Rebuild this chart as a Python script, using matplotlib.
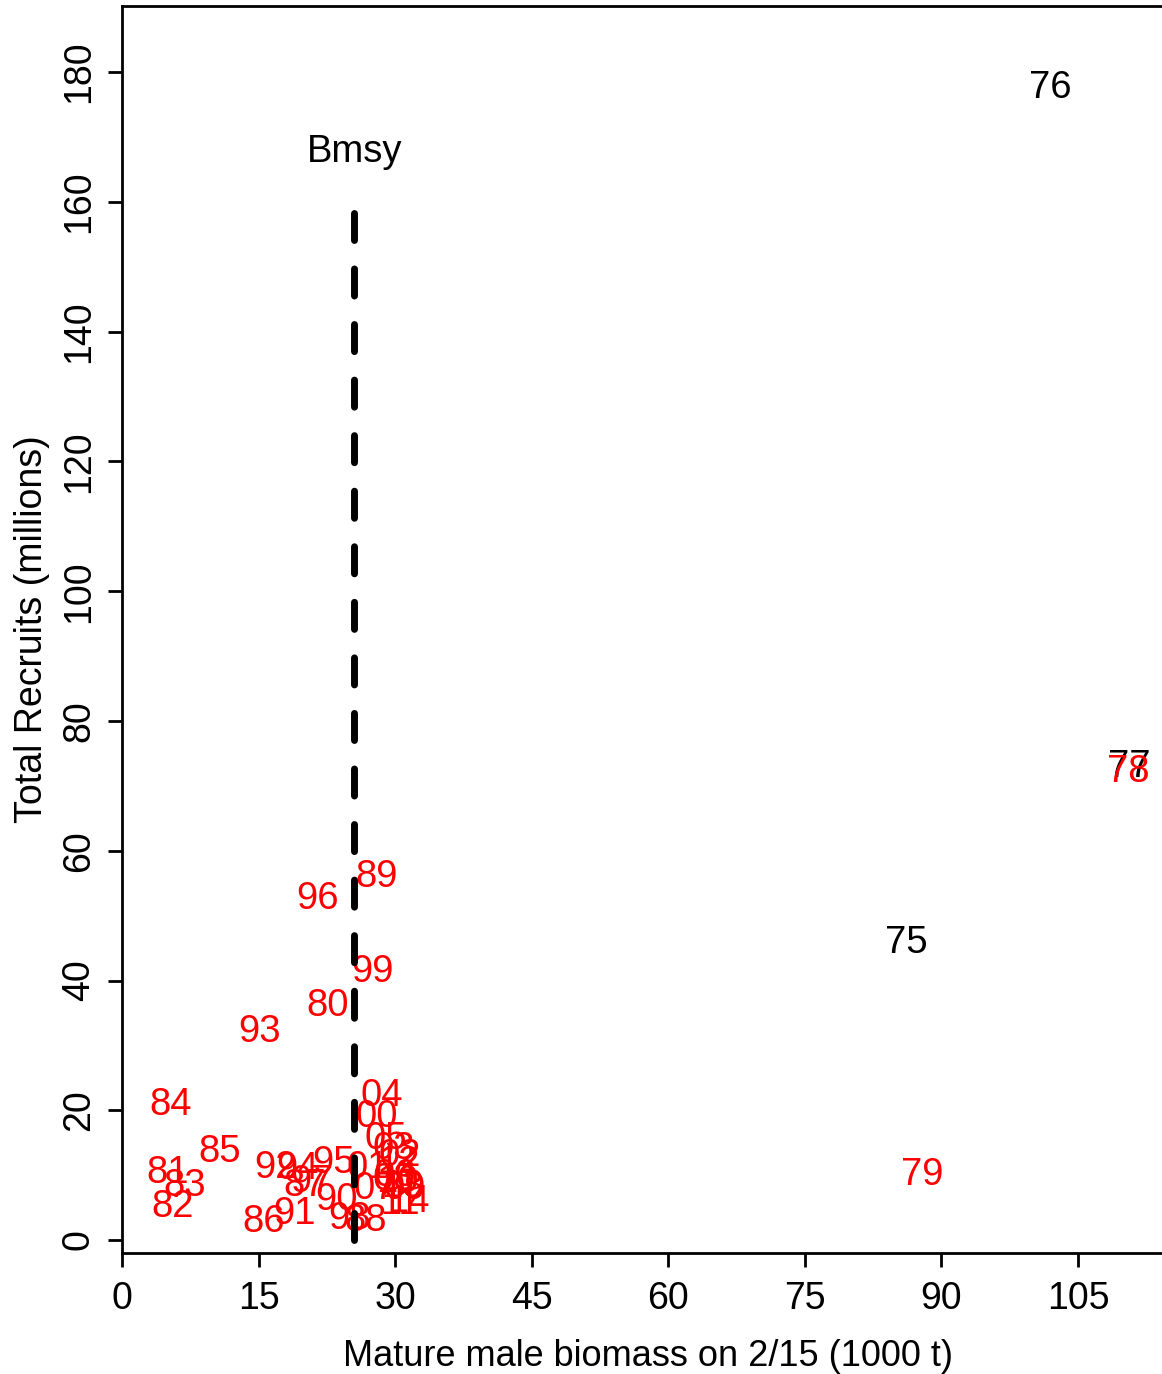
import matplotlib
matplotlib.use("Agg")
import matplotlib.pyplot as plt

plt.rcParams['font.family'] = ['Liberation Sans', 'DejaVu Sans']

years = ["75", "76", "77", "78", "79", "80", "81", "82", "83", "84",
         "85", "86", "87", "88", "89", "90", "91", "92", "93", "94",
         "95", "96", "97", "98", "99", "00", "01", "02", "03", "04",
         "05", "06", "07", "08", "09", "10", "11", "12", "13", "14"]
biomass = [86.1, 102.0, 110.6, 110.5, 87.9, 22.6, 5.0, 5.6, 6.9, 5.3,
           10.7, 15.6, 20.1, 26.8, 28.0, 23.6, 19.0, 16.9, 15.1, 19.3,
           23.2, 21.5, 20.8, 25.0, 27.5, 28.0, 27.0, 30.5, 29.9, 28.5,
           29.0, 30.0, 27.8, 29.8, 31.0, 30.2, 30.5, 30.3, 30.8, 31.4]
recruits = [45.8, 177.5, 72.9, 72.1, 10.0, 36.1, 10.3, 5.1, 8.3, 20.8,
            13.6, 2.8, 8.3, 3.0, 55.9, 6.2, 4.0, 11.1, 32.0, 11.0,
            11.9, 52.6, 9.0, 3.2, 41.3, 18.9, 11.1, 13.0, 14.0, 22.2,
            15.5, 9.8, 7.8, 9.2, 7.9, 8.9, 5.5, 11.8, 8.2, 5.9]
colors = ["black", "black", "black"] + ["red"] * 37

bmsy = 25.5
bmsy_top = 158.3

xticks = [0, 15, 30, 45, 60, 75, 90, 105]
yticks = [0, 20, 40, 60, 80, 100, 120, 140, 160, 180]

fig = plt.figure(figsize=(11.62, 13.74), dpi=100)
ax = fig.add_axes([122/1162, 121/1374, 1.01 - 122/1162, (1253-6)/1374])
ax.set_xlim(0, 115.5)
ax.set_ylim(-2.0, 190.2)

fs = 27.5
for yr, xb, yr_, c in zip(years, biomass, recruits, colors):
    ax.text(xb, yr_, yr, color=c, fontsize=fs, ha='center', va='center', zorder=2)

ax.plot([bmsy, bmsy], [0, bmsy_top], color='black', lw=5,
        dashes=(3.9, 4.1), dash_capstyle='round', zorder=3)
ax.text(bmsy, 167.7, "Bmsy", fontsize=fs, ha='center', va='center', color='black')

ax.set_xticks(xticks)
ax.set_yticks(yticks)
ax.set_xticklabels([str(t) for t in xticks], fontsize=27)
ax.set_yticklabels([str(t) for t in yticks], fontsize=27, rotation=90, va='center')
ax.tick_params(axis='x', length=10, width=2, pad=10)
ax.tick_params(axis='y', length=10, width=2, pad=8)
for s in ax.spines.values():
    s.set_linewidth(2)
ax.spines['right'].set_visible(False)

ax.set_xlabel("Mature male biomass on 2/15 (1000 t)", fontsize=26, labelpad=16)
ax.set_ylabel("Total Recruits (millions)", fontsize=27, labelpad=8)

fig.savefig("out.png", dpi=100)
